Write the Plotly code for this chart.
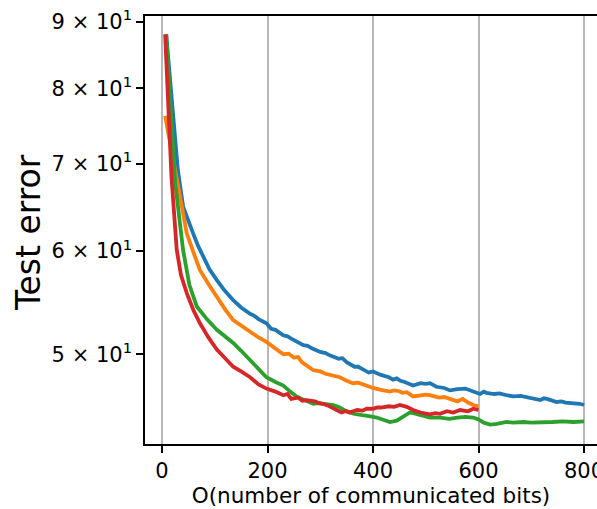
import plotly.graph_objects as go

# ---- data ----
blue_x = [8, 30, 40, 50, 59, 68, 78, 90, 104, 118, 135, 150, 167, 175, 183, 198, 207, 215, 230,
          238, 245, 255, 268, 276, 285, 300, 310, 318, 335, 342, 350, 365, 372, 380, 392, 400,
          415, 430, 438, 445, 452, 460, 476, 490, 500, 508, 520, 535, 546, 560, 575, 590, 603,
          610, 615, 630, 640, 653, 666, 680, 690, 700, 717, 724, 730, 748, 757, 765, 785, 792,
          800]
blue_y = [88.0, 69.3, 64.9, 63.2, 61.9, 60.6, 59.4, 58.1, 57.0, 56.0, 55.0, 54.3, 53.7, 53.5,
          53.2, 52.8, 52.3, 52.2, 51.7, 51.6, 51.4, 51.1, 50.8, 50.75, 50.5, 50.2, 50.1, 49.9,
          49.6, 49.65, 49.3, 48.9, 48.9, 48.7, 48.4, 48.5, 48.2, 48.0, 47.8, 47.9, 47.7, 47.6,
          47.3, 47.5, 47.45, 47.5, 47.2, 47.1, 46.9, 47.0, 47.05, 46.8, 46.6, 46.8, 46.7, 46.6,
          46.65, 46.5, 46.4, 46.45, 46.35, 46.25, 46.1, 46.25, 46.2, 45.95, 46.0, 45.9, 45.85,
          45.8, 45.7]

orange_x = [6, 34, 47, 60, 72, 88, 104, 112, 120, 135, 150, 167, 183, 198, 207, 215, 230, 240,
            250, 258, 265, 287, 300, 310, 320, 337, 350, 362, 372, 380, 392, 400, 415, 432, 440,
            448, 456, 464, 476, 489, 500, 508, 525, 535, 546, 560, 570, 580, 590, 600]
orange_y = [76.2, 66.1, 61.9, 59.8, 58.0, 56.6, 55.3, 54.6, 54.1, 53.1, 52.6, 52.0, 51.5, 51.1,
            50.8, 50.5, 50.0, 50.05, 49.7, 49.75, 49.3, 48.6, 48.5, 48.3, 48.2, 48.0, 47.7,
            47.5, 47.55, 47.4, 47.2, 47.1, 46.95, 46.8, 46.9, 46.85, 46.7, 46.75, 46.4, 46.45,
            46.55, 46.5, 46.3, 46.35, 46.2, 46.0, 46.2, 45.9, 45.7, 45.6]

green_x = [8, 25, 40, 52, 66, 85, 104, 120, 135, 150, 167, 183, 198, 215, 230, 243, 255, 270,
           287, 296, 305, 315, 325, 335, 345, 363, 375, 385, 395, 407, 420, 432, 445, 458, 470,
           480, 495, 508, 527, 545, 560, 575, 590, 600, 610, 622, 635, 653, 666, 685, 700, 717,
           740, 760, 780, 800]
green_y = [88.0, 67.7, 60.1, 56.5, 54.4, 53.2, 52.2, 51.6, 51.0, 50.3, 49.5, 48.7, 48.0, 47.6,
           47.3, 46.8, 46.4, 46.1, 45.8, 45.85, 45.8, 45.75, 45.7, 45.55, 45.3, 45.0, 44.95,
           44.85, 44.8, 44.7, 44.5, 44.35, 44.45, 44.8, 45.1, 45.0, 44.85, 44.7, 44.7, 44.6,
           44.7, 44.75, 44.7, 44.55, 44.3, 44.15, 44.2, 44.35, 44.3, 44.35, 44.3, 44.35, 44.35,
           44.4, 44.35, 44.4]

red_x = [6, 18, 28, 36, 47, 60, 72, 88, 104, 120, 135, 150, 167, 183, 198, 215, 230, 238, 245,
         258, 266, 274, 290, 298, 305, 315, 325, 340, 348, 355, 370, 380, 388, 400, 408, 415,
         430, 440, 451, 464, 476, 490, 508, 518, 527, 540, 552, 565, 580, 590, 600]
red_y = [88.0, 68.4, 60.1, 57.5, 55.7, 54.0, 52.8, 51.5, 50.4, 49.6, 48.9, 48.5, 48.0, 47.4,
         47.05, 46.8, 46.5, 46.6, 46.2, 46.3, 46.05, 46.1, 46.0, 45.85, 45.8, 45.65, 45.4, 45.1,
         45.2, 45.1, 45.3, 45.25, 45.4, 45.4, 45.5, 45.5, 45.6, 45.55, 45.7, 45.55, 45.3, 45.1,
         44.95, 45.05, 45.0, 45.2, 45.1, 45.3, 45.2, 45.4, 45.3]

x_ticks = [0, 200, 400, 600, 800]
y_ticks = [50, 60, 70, 80, 90]
y_tick_text = ["5 × 10<sup>1</sup>", "6 × 10<sup>1</sup>", "7 × 10<sup>1</sup>",
               "8 × 10<sup>1</sup>", "9 × 10<sup>1</sup>"]

x_title = "O(number of communicated bits)"
y_title = "Test error"

series = [
    (blue_x, blue_y, "#1f77b4"),
    (orange_x, orange_y, "#ff7f0e"),
    (green_x, green_y, "#2ca02c"),
    (red_x, red_y, "#d62728"),
]

fig = go.Figure()
for xs, ys, col in series:
    fig.add_trace(go.Scatter(x=xs, y=ys, mode="lines",
                             line=dict(color=col, width=3.8), showlegend=False))

FONT = "DejaVu Sans"
fig.update_layout(
    width=597, height=509,
    margin=dict(l=145, r=0, t=16, b=65, autoexpand=False),
    paper_bgcolor="white", plot_bgcolor="white",
    font=dict(family=FONT, size=21, color="black"),
)
fig.update_xaxes(
    automargin=False,
    range=[-32.2, 824.6],
    tickvals=x_ticks, ticktext=[str(v) for v in x_ticks],
    ticklabeloverflow="allow",
    showgrid=True, gridcolor="#b8b8b8", gridwidth=1.5,
    zeroline=False,
    showline=True, linecolor="black", linewidth=1.6, mirror=True,
    ticks="outside", ticklen=7, tickwidth=1.6, tickcolor="black",
    tickfont=dict(family=FONT, size=21),
    title=dict(text=x_title, font=dict(family=FONT, size=21.5), standoff=6),
)
fig.update_yaxes(
    automargin=False,
    type="log",
    range=[1.6300, 1.95862],
    tickvals=y_ticks, ticktext=y_tick_text,
    showgrid=False, zeroline=False,
    showline=True, linecolor="black", linewidth=1.6, mirror=False,
    ticks="outside", ticklen=7, tickwidth=1.6, tickcolor="black",
    tickfont=dict(family=FONT, size=21),
)
fig.add_annotation(
    text=y_title, xref="paper", yref="paper", x=-0.2566, y=0.493,
    xanchor="center", yanchor="middle", textangle=-90, showarrow=False,
    font=dict(family=FONT, size=33, color="black"),
)

fig.write_html("out.html")
